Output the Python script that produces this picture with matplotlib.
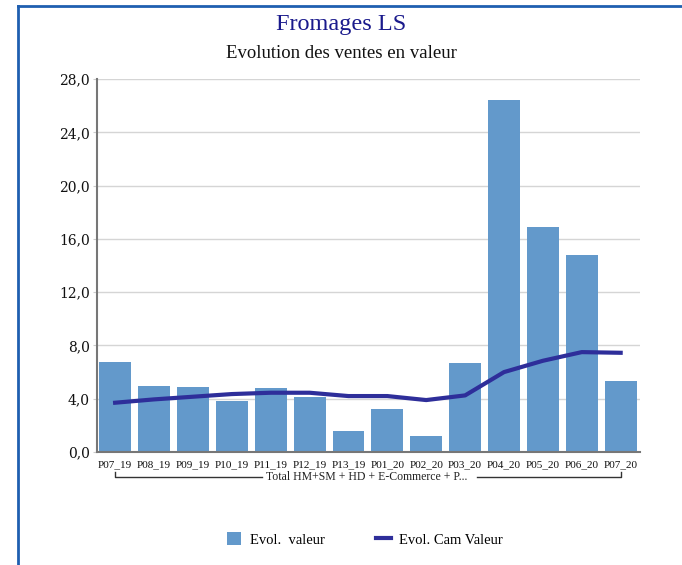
import matplotlib.pyplot as plt
import numpy as np

periods = ['P07_19', 'P08_19', 'P09_19', 'P10_19', 'P11_19', 'P12_19', 'P13_19',
           'P01_20', 'P02_20', 'P03_20', 'P04_20', 'P05_20', 'P06_20', 'P07_20']
evol_valeur = [6.76, 4.95, 4.88, 3.83, 4.80, 4.13, 1.58, 3.23, 1.20, 6.68, 26.43, 16.90, 14.79, 5.33]
evol_cam = [3.70, 3.95, 4.15, 4.35, 4.45, 4.45, 4.20, 4.20, 3.90, 4.25, 6.00, 6.85, 7.50, 7.45]
group_label = 'Total HM+SM + HD + E-Commerce + P...'

plt.rcParams['font.family'] = ['Liberation Serif']

fig = plt.figure(figsize=(6.82, 5.65), dpi=100)
ax = fig.add_axes([0.142, 0.2, 0.796, 0.66])

x = np.arange(len(periods))
bars = ax.bar(x, evol_valeur, width=0.82, color='#6399cb', label='Evol.  valeur', zorder=2)
line, = ax.plot(x, evol_cam, color='#2e2e9a', linewidth=3, label='Evol. Cam Valeur', zorder=3)

ax.set_xlim(-0.47, 13.49)
ax.set_ylim(0, 28)
yt = np.arange(0, 28.1, 4)
ax.set_yticks(yt)
ax.set_yticklabels([f'{v:.1f}'.replace('.', ',') for v in yt], fontsize=10,
                   color='#111111', fontfamily='DejaVu Serif')
ax.set_xticks(x)
ax.set_xticklabels(periods, fontsize=8.1, color='#111111')
ax.tick_params(axis='x', length=0, pad=6)
ax.tick_params(axis='y', length=3, color='#cccccc', pad=2)
ax.grid(axis='y', color='#d5d5d5', linewidth=1, zorder=0)
for s in ['top', 'right']:
    ax.spines[s].set_visible(False)
ax.spines['left'].set_color('#777777')
ax.spines['left'].set_linewidth(1.5)
ax.spines['bottom'].set_color('#777777')
ax.spines['bottom'].set_linewidth(1.5)

# group bracket under the tick labels
y_br = -0.068
tr = ax.get_xaxis_transform()
ax.plot([0, 0, 3.78], [y_br + 0.014, y_br, y_br], transform=tr, color='#333333', lw=1, clip_on=False)
ax.plot([9.3, 13, 13], [y_br, y_br, y_br + 0.014], transform=tr, color='#333333', lw=1, clip_on=False)
ax.text(6.48, y_br + 0.001, group_label, transform=tr, ha='center', va='center', fontsize=8.5,
        color='#222222')

fig.text(0.5, 0.957, 'Fromages LS', ha='center', va='center', fontsize=17.5, color='#1a1a8c')
fig.text(0.5, 0.906, 'Evolution des ventes en valeur', ha='center', va='center', fontsize=13.5,
         color='#111111')

fig.legend([bars, line], ['Evol.  valeur', 'Evol. Cam Valeur'], loc='center',
           bbox_to_anchor=(0.535, 0.045), ncol=2, frameon=False,
           prop={'size': 10.5}, handlelength=1.0, handleheight=1.0,
           handletextpad=0.6, columnspacing=3.5)

# blue frame on top and left
fig.add_artist(plt.Line2D([0.026, 1.0], [0.99, 0.99], transform=fig.transFigure, color='#1f5fb0', lw=2))
fig.add_artist(plt.Line2D([0.026, 0.026], [0.0, 0.99], transform=fig.transFigure, color='#1f5fb0', lw=2))

fig.savefig('out.png', dpi=100)
